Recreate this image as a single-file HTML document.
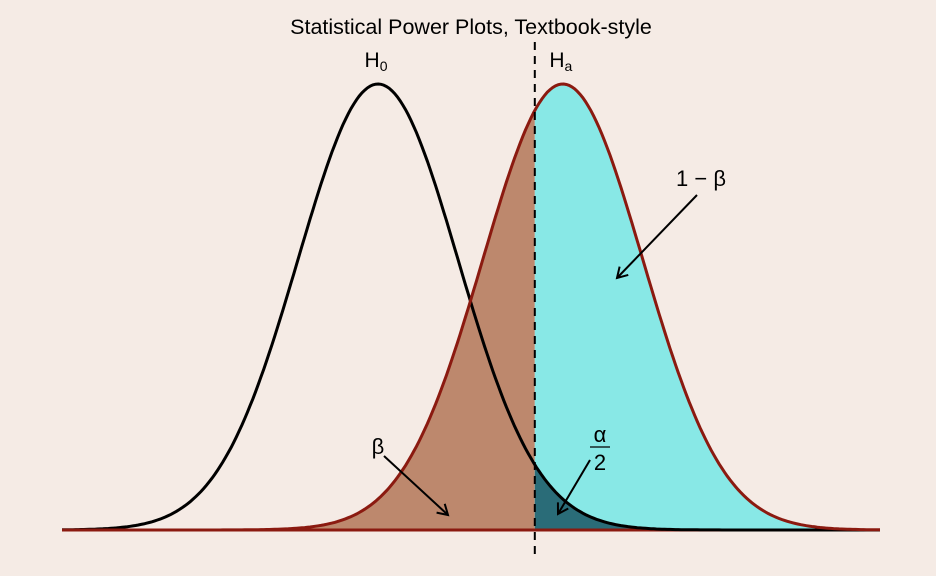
<!DOCTYPE html>
<html><head><meta charset="utf-8"><style>
body{margin:0;background:#F5EBE5;}
svg{display:block;font-family:"Liberation Sans",sans-serif;}
</style></head><body>
<svg id="c" width="936" height="576">
<rect width="936" height="576" fill="#F5EBE5"/>
<text x="471" y="34" font-size="21.5" text-anchor="middle">Statistical Power Plots, Textbook-style</text>
<g id="g"></g>
</svg>
<script>
const means = [0, 2.31];
const sds = [1, 1];
const critical = [1.96];
const domain = [-3.95, 6.275];
const labels = ["H0", "Ha"];
const ns = "http://www.w3.org/2000/svg";
const X0 = 62, X1 = 880, BASE = 530, PEAKY = 84;
const sx = v => X0 + (v - domain[0]) / (domain[1] - domain[0]) * (X1 - X0);
const ymax = 1 / Math.sqrt(2 * Math.PI);
const sy = d => BASE - d / ymax * (BASE - PEAKY);
const pdf = (v, m, s) => Math.exp(-0.5 * ((v - m) / s) ** 2) / (s * Math.sqrt(2 * Math.PI));
const g = document.getElementById('g');
function el(t, a) { const e = document.createElementNS(ns, t); for (const k in a) e.setAttribute(k, a[k]); g.appendChild(e); return e; }
function curvePts(m, s, a, b) { let p = []; const N = 300; for (let i = 0; i <= N; i++) { const v = a + (b - a) * i / N; p.push([sx(v), sy(pdf(v, m, s))]); } return p; }
function area(m, s, a, b) { const p = curvePts(m, s, a, b); return `M${sx(a)},${BASE} ` + p.map(q => `L${q[0].toFixed(1)},${q[1].toFixed(1)}`).join(' ') + ` L${sx(b)},${BASE} Z`; }
function line(m, s) { const p = curvePts(m, s, domain[0], domain[1]); return 'M' + p.map(q => q[0].toFixed(1) + ',' + q[1].toFixed(1)).join(' L'); }
const c = critical[0];
let e;
e = el('path', { d: area(means[1], sds[1], domain[0], c), fill: '#BD886D' });


e = el('path', { d: area(means[1], sds[1], c, domain[1]), fill: '#88E8E6' });


e = el('path', { d: area(means[0], sds[0], c, domain[1]), fill: '#2A6C78' });


e = el('line', { x1: X0, x2: X1, y1: BASE, y2: BASE, stroke: '#8B1A10', 'stroke-width': 3 });


e = el('path', { d: line(means[0], sds[0]), fill: 'none', stroke: '#000', 'stroke-width': 3 });


e = el('path', { d: line(means[1], sds[1]), fill: 'none', stroke: '#8B1A10', 'stroke-width': 3 });


e = el('line', { x1: sx(c), x2: sx(c), y1: 42, y2: 556, stroke: '#000', 'stroke-width': 2, 'stroke-dasharray': '8,6' });


for (let i = 0; i < 2; i++) {
  const t = el('text', { x: sx(means[i]) - 2, y: 67, 'font-size': 21, 'text-anchor': 'middle' });
  
  
  t.innerHTML = 'H<tspan font-size="14" dy="4">' + (i ? 'a' : '0') + '</tspan>';
}
const defs = el('defs', {});
defs.innerHTML = '<marker id="ah" markerWidth="14" markerHeight="14" refX="12" refY="7" orient="auto" markerUnits="userSpaceOnUse"><path d="M2,1 L12,7 L2,13" fill="none" stroke="#000" stroke-width="2"/></marker>';
function arrow(x1, y1, x2, y2, name) { const a = el('line', { x1, y1, x2, y2, stroke: '#000', 'stroke-width': 2, 'marker-end': 'url(#ah)' });   }
arrow(697, 195, 617, 278, 'power-arrow');
arrow(384, 456, 448, 515, 'beta-arrow');
arrow(590, 460, 558, 514, 'alpha-arrow');
function txt(x, y, s, name, size) { const t = el('text', { x, y, 'font-size': size || 22, 'text-anchor': 'middle' }); t.textContent = s;   }
txt(701, 186, '1 − β', 'power-label');
txt(378, 454, 'β', 'beta-label');
txt(600, 442, 'α', 'alpha-label');
txt(600, 470, '2', 'alpha-denominator');
e = el('line', { x1: 590, x2: 610, y1: 447, y2: 447, stroke: '#000', 'stroke-width': 1.2 });


</script>
</body></html>
